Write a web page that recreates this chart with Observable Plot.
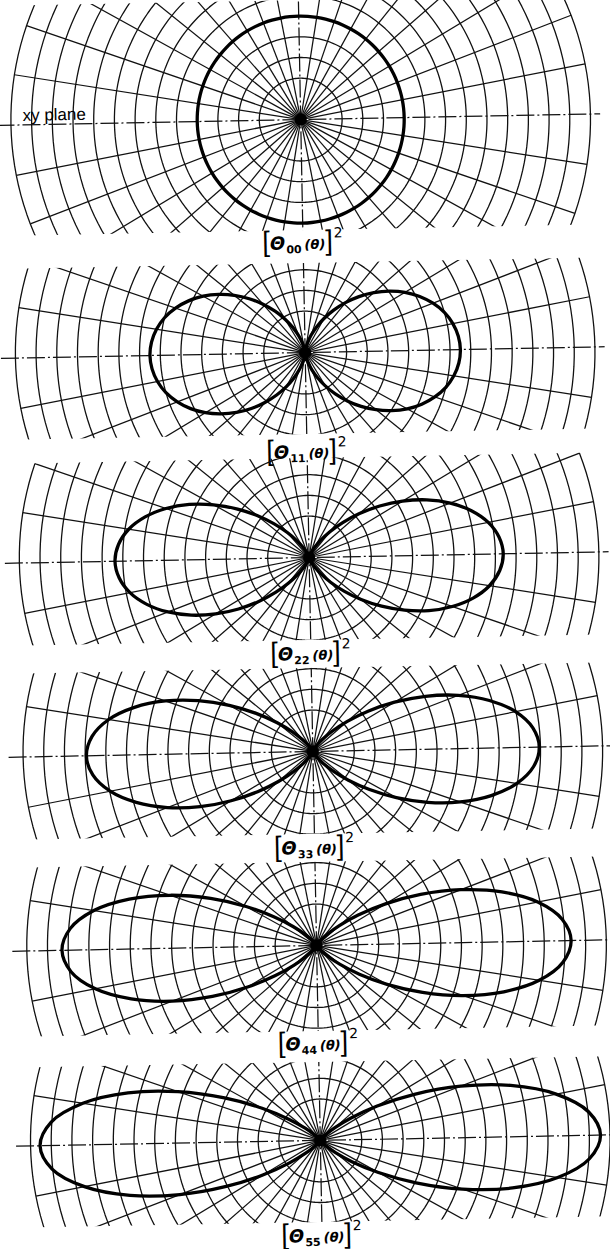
<!DOCTYPE html>
<html>
<head>
<meta charset="utf-8">
<script src="https://cdn.jsdelivr.net/npm/d3@7"></script>
<script src="https://cdn.jsdelivr.net/npm/@observablehq/plot@0.6"></script>
<style>
  html, body { margin: 0; padding: 0; background: #fff; overflow: hidden; }
  #page { position: relative; width: 610px; height: 1249px; transform: rotate(-1.1deg); transform-origin: 310px 630px; }
  .lab { position: absolute; left: 0; width: 620px; height: 30px; line-height: 30px; text-align: center; font-family: "DejaVu Sans", sans-serif; color: #000; white-space: nowrap; }
  .lab .br { font-family: "Liberation Sans", sans-serif; font-weight: normal; font-size: 27px; display: inline-block; transform: scaleY(1.05); vertical-align: -1px; }
  .lab .th { font-style: italic; font-weight: bold; font-size: 18px; }
  .lab sub { font-size: 11px; font-weight: bold; vertical-align: -4px; line-height: 0; margin: 0 3px 0 1px; }
  .lab .arg { font-size: 13px; font-style: italic; font-weight: bold; }
  .lab sup { font-size: 14px; vertical-align: 11px; line-height: 0; margin-left: 1px; }
</style>
</head>
<body>
<div id="page"></div>
<script>
// ---- data ----
// polar angle measured from the xy plane, one quadrant (mirrored by symmetry)
const phi = [0,5,10,15,20,25,30,35,40,45,50,55,60,65,70,75,80,85,90];
// radius of [Θ_ll(θ)]² at each angle
const theta00 = [0.500,0.500,0.500,0.500,0.500,0.500,0.500,0.500,0.500,0.500,0.500,0.500,0.500,0.500,0.500,0.500,0.500,0.500,0.500];
const theta11 = [0.750,0.744,0.727,0.700,0.662,0.616,0.563,0.503,0.440,0.375,0.310,0.247,0.188,0.134,0.088,0.050,0.023,0.006,0];
const theta22 = [0.938,0.923,0.882,0.816,0.731,0.633,0.527,0.422,0.323,0.234,0.160,0.101,0.059,0.030,0.013,0.004,0.001,0,0];
const theta33 = [1.094,1.069,0.998,0.888,0.753,0.606,0.461,0.330,0.221,0.137,0.077,0.039,0.017,0.006,0.002,0,0,0,0];
const theta44 = [1.230,1.193,1.089,0.932,0.748,0.560,0.389,0.249,0.146,0.077,0.036,0.014,0.005,0.001,0,0,0,0,0];
const theta55 = [1.354,1.303,1.161,0.957,0.727,0.506,0.321,0.184,0.094,0.042,0.016,0.005,0.001,0,0,0,0,0,0];
const series = [theta00, theta11, theta22, theta33, theta44, theta55];
const labels = ["00","11","22","33","44","55"];
// polar grid ticks
const rings = [0.2,0.3,0.4,0.5,0.6,0.7,0.8,0.9,1.0,1.1,1.2,1.3,1.4];
const spokes = [0,10,20,30,40,50,60,70,80,90,100,110,120,130,140,150,160,170,180,190,200,210,220,230,240,250,260,270,280,290,300,310,320,330,340,350];
const pole = [{r: 0}];

// ---- layout (pixels) ----
const S = 207;          // px per unit radius
const CX = 310;         // centre x
const layout = [
  {top: 0,    center: 119,  bottom: 230,  label: 242},
  {top: 263,  center: 352,  bottom: 434,  label: 451},
  {top: 458,  center: 557,  bottom: 640,  label: 653},
  {top: 668,  center: 751,  bottom: 834,  label: 847},
  {top: 862,  center: 945,  bottom: 1031, label: 1043},
  {top: 1062, center: 1140, bottom: 1222, label: 1235}
];

const rad = d => d * Math.PI / 180;
function curvePoints(vals) {
  const pts = [];
  for (let a = 0; a < 360; a += 5) {
    const p = a <= 90 ? a : a <= 180 ? 180 - a : a <= 270 ? a - 180 : 360 - a;
    const r = vals[phi.indexOf(p)];
    const pt = {x: r * Math.cos(rad(a)), y: r * Math.sin(rad(a))};
    const last = pts[pts.length - 1];
    if (last && Math.abs(last.x - pt.x) < 1e-9 && Math.abs(last.y - pt.y) < 1e-9) continue;
    pts.push(pt);
  }
  return pts;
}
const ringPts = rings.flatMap(r => d3.range(0, 361, 2).map(a => ({r, x: r * Math.cos(rad(a)), y: r * Math.sin(rad(a))})));
const outer = rings[rings.length - 1];
const spokeSegs = spokes.filter(a => a % 90 !== 0).map(a => ({x1: 0, y1: 0, x2: outer * Math.cos(rad(a)), y2: outer * Math.sin(rad(a))}));
const axesSegs = [{x1: -outer * 1.05, y1: 0, x2: outer * 1.05, y2: 0}, {x1: 0, y1: -outer, x2: 0, y2: outer}];

const page = document.getElementById("page");
series.forEach((vals, i) => {
  const L = layout[i];
  const h = L.bottom - L.top;
  const marks = [
    Plot.line(ringPts, {x: "x", y: "y", z: "r", stroke: "#111", strokeWidth: 1.3, clip: true}),
    Plot.link(spokeSegs, {x1: "x1", y1: "y1", x2: "x2", y2: "y2", stroke: "#111", strokeWidth: 1.25, clip: true}),
    Plot.link(axesSegs, {x1: "x1", y1: "y1", x2: "x2", y2: "y2", stroke: "#111", strokeWidth: 1.25, strokeDasharray: "18,3,2,3", clip: true}),
    Plot.dot(pole, {x: "r", y: "r", r: 6, fill: "#000", stroke: null}),
    Plot.line(curvePoints(vals), {x: "x", y: "y", curve: "catmull-rom-closed", stroke: "#000", strokeWidth: 3.3, clip: true})
  ];
  if (i === 0) {
    marks.push(Plot.text(["xy plane"], {y: 0, frameAnchor: "left", textAnchor: "start", lineAnchor: "bottom", dx: 32, dy: -4,
      fontSize: 17, fontFamily: "Liberation Sans, sans-serif", fill: "#000", letterSpacing: "1.5px"}));
  }
  const svg = Plot.plot({
    width: 610, height: h,
    margin: 0,
    style: {background: "transparent", overflow: "hidden"},
    x: {domain: [-CX / S, (610 - CX) / S], axis: null},
    y: {domain: [-(L.bottom - L.center) / S, (L.center - L.top) / S], axis: null},
    marks
  });
  svg.style.position = "absolute";
  svg.style.left = "0px";
  svg.style.top = L.top + "px";
  page.appendChild(svg);

  const lab = document.createElement("div");
  lab.className = "lab";
  lab.style.top = (L.label - 16) + "px";
  lab.innerHTML = `<span class="br">[</span><span class="th">Θ</span><sub>${labels[i]}</sub><span class="arg">(θ)</span><span class="br">]</span><sup>2</sup>`;
  page.appendChild(lab);
});
</script>
</body>
</html>
